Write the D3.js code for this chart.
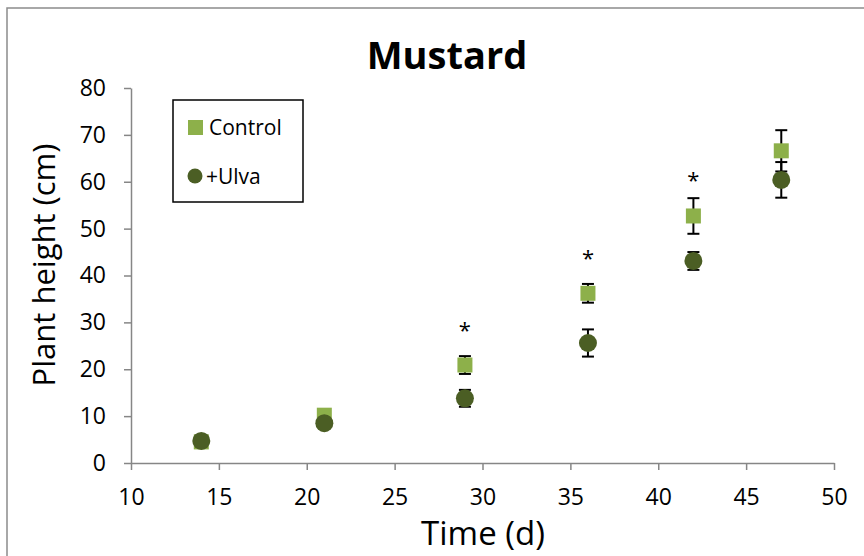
<!DOCTYPE html>
<meta charset="utf-8">
<style>
body { margin: 0; background: #fff; }
text { font-family: "Open Sans", sans-serif; fill: #000; }
.axis path, .axis line { stroke: #868686; stroke-width: 1.5px; }
.axis text { font-size: 23px; }
</style>
<svg width="864" height="556"></svg>
<script src="https://d3js.org/d3.v7.min.js"></script>
<script>
// data
var days = [14, 21, 29, 36, 42, 47];
var controlMean = [4.5, 10.2, 20.9, 36.2, 52.7, 66.6];
var controlErr  = [0, 0, 1.9, 2.0, 3.8, 4.4];
var ulvaMean = [4.7, 8.5, 13.8, 25.6, 43.1, 60.4];
var ulvaErr  = [0, 0, 1.8, 2.9, 1.9, 3.8];
var starDays = [29, 36, 42];
var starValues = [29.0, 44.4, 61.0];
var xTicks = [10, 15, 20, 25, 30, 35, 40, 45, 50];
var yTicks = [0, 10, 20, 30, 40, 50, 60, 70, 80];

var svg = d3.select("svg"),
    margin = {top: 88, left: 131};

var x = d3.scaleLinear().domain([10, 50]).range([0, 703]),
    y = d3.scaleLinear().domain([0, 80]).range([375, 0]);

// chart area border (runs off the right and bottom)
svg.append("rect")
    .attr("x", 7).attr("y", 8)
    .attr("width", 870).attr("height", 560)
    .attr("fill", "none")
    .attr("stroke", "#8c8c8c")
    .attr("stroke-width", 1.5);

var g = svg.append("g")
    .attr("transform", "translate(" + margin.left + "," + margin.top + ")");

// axes
g.append("g")
    .attr("class", "axis")
    .attr("transform", "translate(0,375)")
    .call(d3.axisBottom(x).tickValues(xTicks).tickSize(7).tickSizeOuter(0).tickPadding(19))
    .selectAll("text").attr("dy", "0.71em");

g.append("g")
    .attr("class", "axis")
    .call(d3.axisLeft(y).tickValues(yTicks).tickSize(7).tickSizeOuter(0).tickPadding(18));

// title and axis titles
svg.append("text")
    .attr("x", 447).attr("y", 69)
    .attr("text-anchor", "middle")
    .style("font-size", "38px").style("font-weight", "bold")
    .text("Mustard");

svg.append("text")
    .attr("x", 483).attr("y", 545)
    .attr("text-anchor", "middle")
    .style("font-size", "33px")
    .text("Time (d)");

svg.append("text")
    .attr("transform", "translate(55,265) rotate(-90)")
    .attr("text-anchor", "middle")
    .style("font-size", "31px")
    .text("Plant height (cm)");

function errorBars(means, errs) {
    var eb = g.append("g").selectAll("g")
        .data(days.map(function(d, i) { return {x: d, m: means[i], e: errs[i]}; })
            .filter(function(d) { return d.e > 0; }))
        .enter().append("g")
        .attr("stroke", "#000").attr("stroke-width", 2);
    eb.append("line")
        .attr("x1", function(d) { return x(d.x); })
        .attr("x2", function(d) { return x(d.x); })
        .attr("y1", function(d) { return y(d.m - d.e); })
        .attr("y2", function(d) { return y(d.m + d.e); });
    [-1, 1].forEach(function(s) {
        eb.append("line")
            .attr("x1", function(d) { return x(d.x) - 6; })
            .attr("x2", function(d) { return x(d.x) + 6; })
            .attr("y1", function(d) { return y(d.m + s * d.e); })
            .attr("y2", function(d) { return y(d.m + s * d.e); });
    });
}

// control squares
errorBars(controlMean, controlErr);
g.append("g").selectAll("rect")
    .data(days)
    .enter().append("rect")
    .attr("x", function(d) { return x(d) - 7.5; })
    .attr("y", function(d, i) { return y(controlMean[i]) - 7.5; })
    .attr("width", 15).attr("height", 15)
    .attr("fill", "#8DB04A");

// +Ulva circles
errorBars(ulvaMean, ulvaErr);
g.append("g").selectAll("circle")
    .data(days)
    .enter().append("circle")
    .attr("cx", function(d) { return x(d); })
    .attr("cy", function(d, i) { return y(ulvaMean[i]); })
    .attr("r", 9)
    .attr("fill", "#4B5E24");

// significance stars
g.append("g").selectAll("text")
    .data(starDays)
    .enter().append("text")
    .attr("x", function(d) { return x(d); })
    .attr("y", function(d, i) { return y(starValues[i]); })
    .attr("dy", "0.5em")
    .attr("text-anchor", "middle")
    .style("font-size", "22px")
    .text("*");

// legend
var legend = svg.append("g");
legend.append("rect")
    .attr("x", 173).attr("y", 100)
    .attr("width", 130).attr("height", 102)
    .attr("fill", "#fff")
    .attr("stroke", "#000").attr("stroke-width", 1.5);
legend.append("rect")
    .attr("x", 188).attr("y", 120)
    .attr("width", 15).attr("height", 15)
    .attr("fill", "#8DB04A");
legend.append("text")
    .attr("x", 209).attr("y", 135)
    .style("font-size", "21px")
    .text("Control");
legend.append("circle")
    .attr("cx", 195).attr("cy", 176).attr("r", 7.5)
    .attr("fill", "#4B5E24");
legend.append("text")
    .attr("x", 206).attr("y", 184)
    .style("font-size", "21px")
    .text("+Ulva");
</script>
